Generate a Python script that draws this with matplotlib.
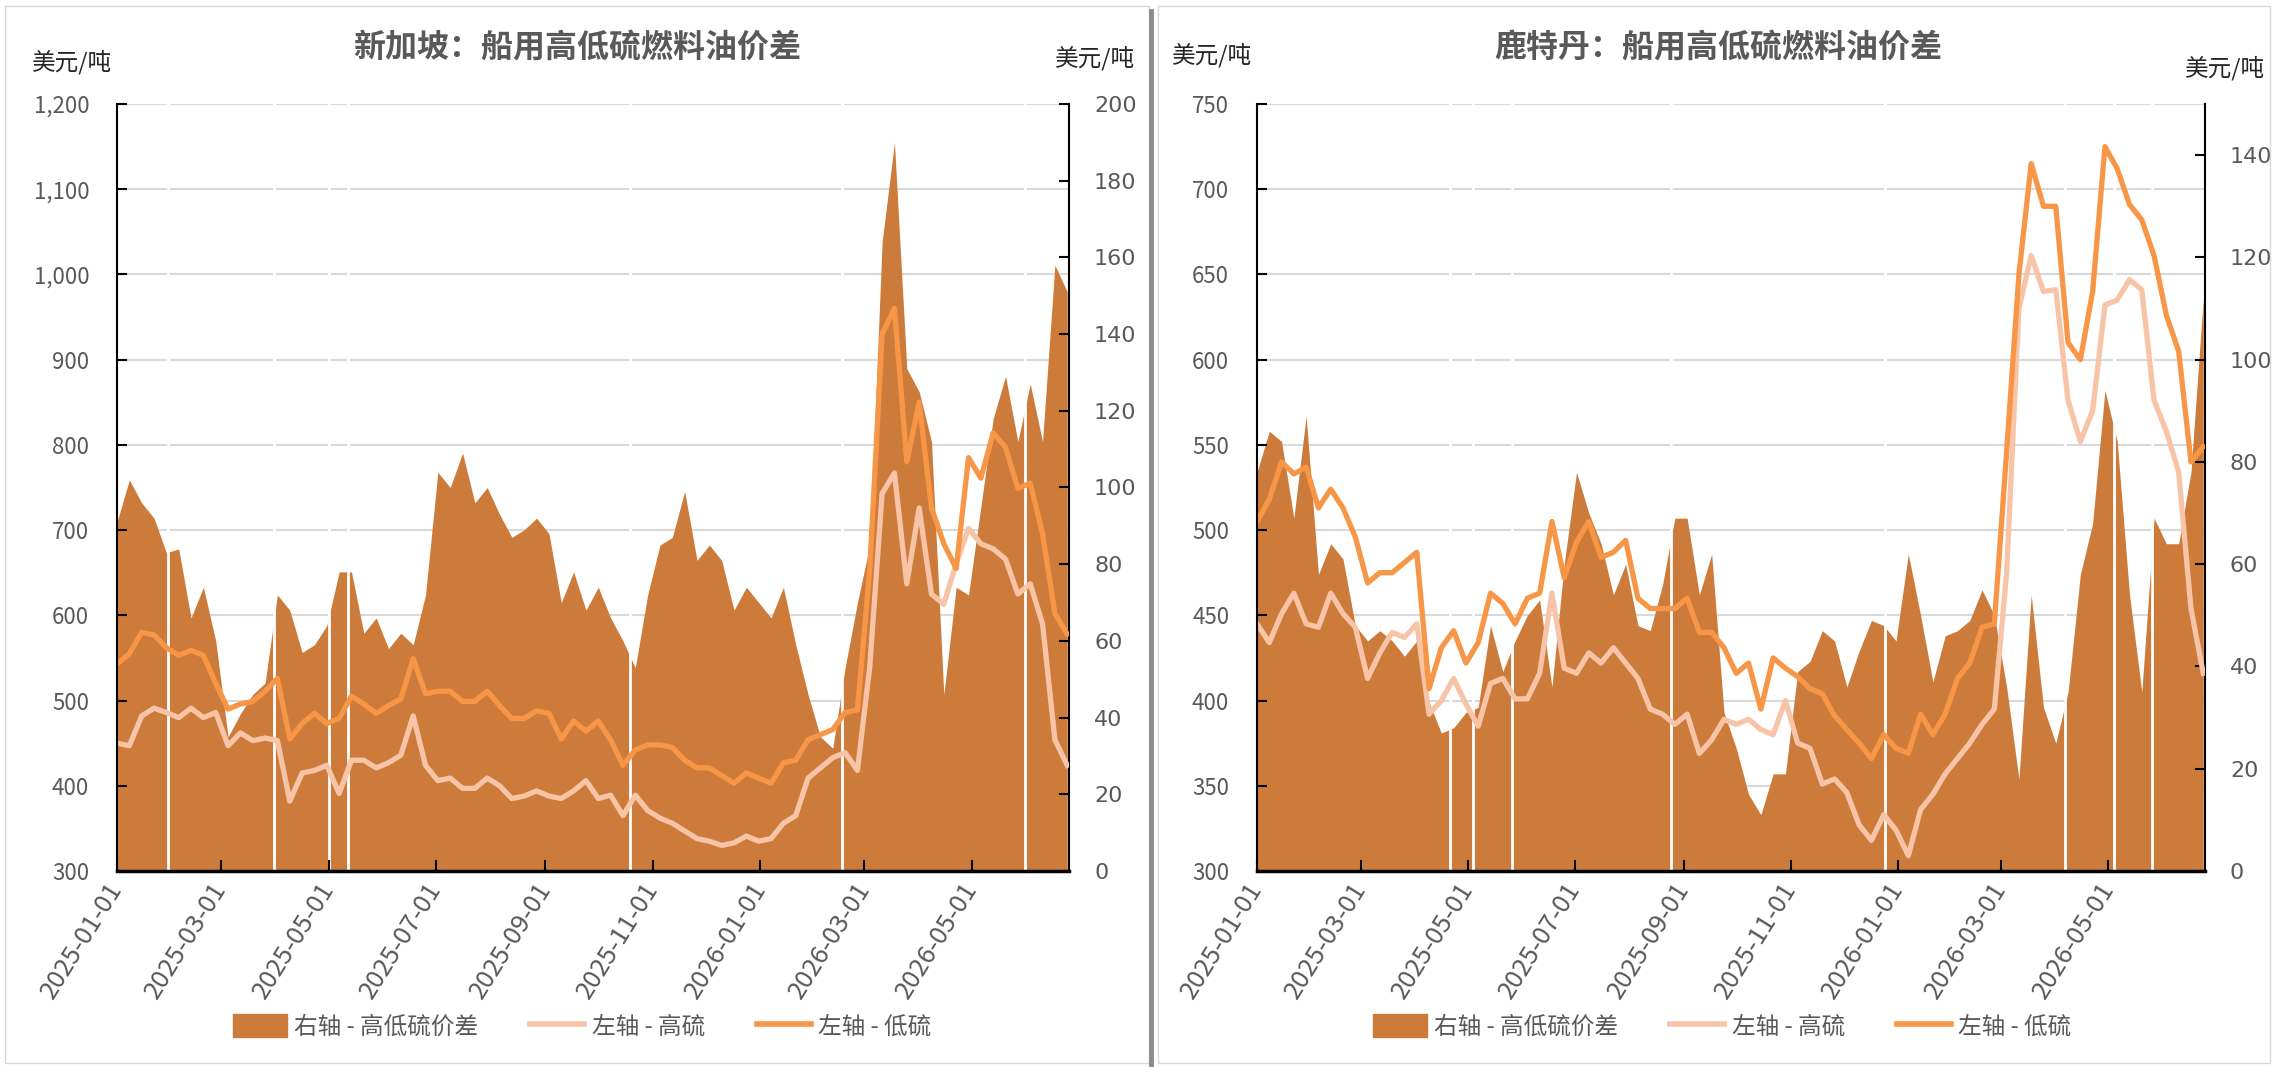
"""Spread HSFO / VLSFO: Singapur y Rotterdam."""

import matplotlib
matplotlib.use('Agg')
import matplotlib.pyplot as plt
from matplotlib.patches import Patch, Rectangle
from matplotlib.lines import Line2D
import pandas as pd

plt.rcParams['font.family'] = ['Noto Sans CJK SC', 'DejaVu Sans']

GRIS = '#595959'
C_SPREAD = '#CD7B3A'
C_HS = '#F8C4A7'
C_LS = '#F79646'

# Fechas semanales (2025-01-01 .. 2026-06-24)
fechas = pd.date_range('2025-01-01', periods=78, freq='7D')
ticks_x = pd.date_range('2025-01-01', '2026-05-01', freq='2MS')

# Singapur (USD/t)
sg_ls = [543, 555, 580, 577, 562, 553, 559, 553, 520, 490,
         496, 499, 511, 526, 455, 473, 485, 473, 479, 505,
         496, 485, 494, 502, 549, 508, 511, 511, 499, 499,
         511, 494, 479, 479, 488, 485, 455, 476, 464, 476,
         454, 424, 442, 448, 448, 445, 430, 421, 421, 412,
         403, 415, 409, 403, 427, 430, 454, 460, 466, 486,
         489, 655, 930, 960, 780, 850, 726, 684, 655, 785,
         761, 814, 797, 749, 755, 696, 602, 578]
sg_hs = [450, 447, 482, 491, 486, 480, 491, 480, 486, 447,
         462, 453, 456, 453, 382, 415, 418, 424, 391, 430,
         430, 421, 427, 436, 482, 424, 406, 409, 397, 397,
         409, 400, 385, 388, 394, 388, 385, 394, 406, 385,
         389, 365, 389, 371, 362, 356, 347, 338, 335, 330,
         333, 341, 335, 338, 356, 365, 409, 421, 433, 439,
         418, 540, 743, 767, 637, 726, 625, 613, 661, 702,
         684, 678, 666, 625, 637, 590, 454, 424]
sg_spread = [91, 102, 96, 92, 83, 84, 66, 74, 60, 35,
             41, 46, 49, 72, 68, 57, 59, 64, 78, 78,
             62, 66, 58, 62, 59, 72, 104, 100, 109, 96,
             100, 93, 87, 89, 92, 88, 70, 78, 68, 74,
             66, 60, 53, 72, 85, 87, 99, 81, 85, 81,
             68, 74, 70, 66, 74, 59, 46, 35, 32, 53,
             70, 85, 164, 190, 131, 125, 112, 46, 74, 72,
             95, 118, 129, 112, 127, 112, 158, 151]
sg_huecos = ['2025-01-30', '2025-03-31', '2025-05-01', '2025-05-12',
             '2025-10-19', '2026-02-16', '2026-05-31']

# Rotterdam (USD/t)
rt_ls = [505, 518, 540, 533, 537, 513, 524, 513, 496, 469,
         475, 475, 481, 487, 407, 431, 441, 422, 434, 463,
         457, 445, 460, 463, 505, 472, 493, 505, 484, 487,
         494, 460, 454, 454, 454, 460, 440, 440, 431, 416,
         422, 395, 425, 419, 414, 407, 404, 391, 383, 375,
         366, 380, 372, 369, 392, 380, 392, 413, 422, 443,
         445, 546, 650, 715, 690, 690, 610, 600, 640, 725,
         712, 691, 682, 661, 626, 605, 540, 549]
rt_hs = [445, 434, 451, 463, 445, 443, 463, 451, 443, 413,
         428, 440, 437, 445, 392, 400, 413, 398, 385, 410,
         413, 401, 401, 416, 463, 419, 416, 428, 422, 431,
         422, 413, 395, 392, 386, 392, 369, 377, 389, 386,
         389, 383, 380, 400, 375, 372, 351, 354, 346, 327,
         318, 333, 324, 309, 336, 345, 357, 366, 375, 386,
         395, 475, 630, 661, 640, 641, 576, 552, 570, 632,
         635, 647, 641, 576, 558, 534, 454, 416]
rt_spread = [78, 86, 84, 69, 89, 58, 64, 61, 48, 45,
             47, 45, 42, 45, 33, 27, 28, 31, 32, 48,
             39, 45, 50, 53, 36, 60, 78, 70, 64, 54,
             60, 48, 47, 56, 69, 69, 54, 62, 31, 24,
             15, 11, 19, 19, 39, 41, 47, 45, 36, 43,
             49, 48, 45, 62, 50, 37, 46, 47, 49, 55,
             50, 36, 18, 54, 32, 25, 35, 58, 68, 94,
             84, 54, 35, 69, 64, 64, 78, 112]
rt_huecos = ['2025-04-21', '2025-05-04', '2025-05-26', '2025-08-25',
             '2025-12-25', '2026-04-06', '2026-05-04', '2026-05-26']

fig = plt.figure(figsize=(22.75, 10.67), dpi=100)

# Marcos de cada grafico y separador
for x0, w in [(0.002, 0.503), (0.509, 0.489)]:
    fig.add_artist(Rectangle((x0, 0.004), w, 0.99, transform=fig.transFigure,
                             fill=False, ec='#D9D9D9', lw=1))
fig.add_artist(Line2D([0.506, 0.506], [0.0, 0.99], transform=fig.transFigure,
                      color='#8C8C8C', lw=3.5))


def dibujar_panel(rect, titulo, tx, ls, hs, spread, huecos,
                  izq, der, der_top, unidades, lx):
    # Fondo con la rejilla (debajo del area)
    axg = fig.add_axes(rect)
    axg.set_ylim(izq[0], izq[-1])
    axg.set_yticks(izq)
    axg.grid(axis='y', color='#D9D9D9', lw=1.5)
    axg.tick_params(left=False, labelleft=False, bottom=False, labelbottom=False)
    for sp in axg.spines.values():
        sp.set_visible(False)

    # Eje derecho: area del spread
    axr = fig.add_axes(rect, sharex=axg)
    axr.patch.set_visible(False)
    axr.fill_between(fechas, 0, spread, color=C_SPREAD, lw=0)
    for g in huecos:
        axr.axvline(pd.Timestamp(g), color='white', lw=2)
    axr.set_ylim(0, der_top)
    axr.set_yticks(der)
    axr.yaxis.tick_right()
    axr.tick_params(axis='y', direction='in', length=7, width=1.5,
                    labelsize=16, labelcolor=GRIS, pad=18)
    for lbl in axr.get_yticklabels():
        lbl.set_fontfamily('DejaVu Sans')
    axr.tick_params(bottom=False, labelbottom=False)
    for k in ['left', 'top', 'bottom']:
        axr.spines[k].set_visible(False)
    axr.spines['right'].set_linewidth(1.5)

    # Eje izquierdo: lineas
    ax = fig.add_axes(rect, sharex=axg)
    ax.patch.set_visible(False)
    ax.plot(fechas, hs, color=C_HS, lw=3.8)
    ax.plot(fechas, ls, color=C_LS, lw=3.8)
    ax.set_ylim(izq[0], izq[-1])
    ax.set_yticks(izq)
    ax.set_yticklabels([f'{v:,}' for v in izq])
    ax.set_xlim(pd.Timestamp('2025-01-01'), pd.Timestamp('2026-06-25'))
    ax.set_xticks(ticks_x)
    ax.set_xticklabels([t.strftime('%Y-%m-%d') for t in ticks_x],
                       rotation=58, ha='right', va='center',
                       rotation_mode='anchor')
    ax.tick_params(axis='y', direction='in', length=7, width=1.5,
                   labelsize=16, labelcolor=GRIS, pad=20)
    ax.tick_params(axis='x', direction='in', length=8, width=1.5,
                   labelsize=18.5, labelcolor=GRIS, pad=10)
    for k in ['top', 'right']:
        ax.spines[k].set_visible(False)
    ax.spines['left'].set_linewidth(1.5)
    ax.spines['bottom'].set_linewidth(2.5)

    fig.text(tx, 1 - 48 / 1067, titulo, ha='center', va='center',
             fontsize=23, fontweight='bold', color=GRIS)
    for (ux, uy) in unidades:
        fig.text(ux, uy, '美元/吨', ha='left', va='center',
                 fontsize=17, color='#262626')

    handles = [Patch(color=C_SPREAD),
               Line2D([], [], color=C_HS, lw=4),
               Line2D([], [], color=C_LS, lw=4)]
    fig.legend(handles, ['右轴 - 高低硫价差', '左轴 - 高硫', '左轴 - 低硫'],
               loc='center', bbox_to_anchor=(lx, 0.038), ncol=3,
               frameon=False, fontsize=17, labelcolor=GRIS,
               handlelength=2.3, handleheight=1.1, columnspacing=2.2,
               handletextpad=0.3)


alto = 767 / 1067
base = 1 - 871 / 1067
dibujar_panel([117 / 2275, base, 952 / 2275, alto],
              '新加坡：船用高低硫燃料油价差', 577 / 2275,
              sg_ls, sg_hs, sg_spread, sg_huecos,
              list(range(300, 1201, 100)), list(range(0, 201, 20)), 200,
              [(32 / 2275, 1 - 62 / 1067), (1055 / 2275, 1 - 58 / 1067)],
              582 / 2275)
dibujar_panel([1257 / 2275, base, 948 / 2275, alto],
              '鹿特丹：船用高低硫燃料油价差', 1718 / 2275,
              rt_ls, rt_hs, rt_spread, rt_huecos,
              list(range(300, 751, 50)), list(range(0, 141, 20)), 150,
              [(1172 / 2275, 1 - 55 / 1067), (2185 / 2275, 1 - 68 / 1067)],
              1722 / 2275)

fig.savefig('out.png', dpi=100)
